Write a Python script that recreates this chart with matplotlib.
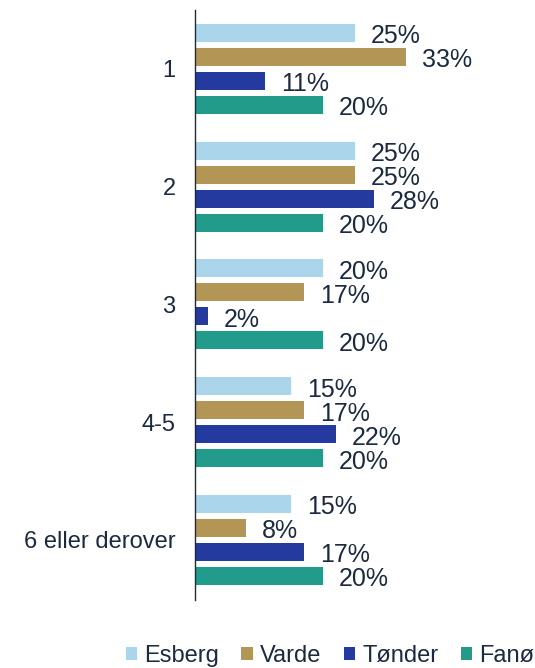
import matplotlib

matplotlib.use("Agg")
import matplotlib.pyplot as plt
import numpy as np

categories = ["1", "2", "3", "4-5", "6 eller derover"]
series = ["Esberg", "Varde", "Tønder", "Fanø"]
esberg = [25, 25, 20, 15, 15]
varde = [33, 25, 17, 17, 8]
tonder = [11, 28, 2, 22, 17]
fano = [20, 20, 20, 20, 20]
values = [esberg, varde, tonder, fano]

colors = ["#ABD5EA", "#B39556", "#253A9F", "#239B8B"]
text_color = "#1B2A3E"

plt.rcParams["font.family"] = ["Liberation Sans", "DejaVu Sans"]

fig = plt.figure(figsize=(5.35, 6.68), dpi=100)
ax = fig.add_axes([195 / 535, 1 - 600 / 668, 340 / 535, 590 / 668])

y = np.arange(len(categories))
step = 0.204
height = 0.153
for i, (name, vals, col) in enumerate(zip(series, values, colors)):
    pos = y + (i - 1.5) * step
    ax.barh(pos, vals, height=height, color=col, label=name)
    for p, v in zip(pos, vals):
        ax.annotate(f"{v}%", (v, p), xytext=(11.5, -2.5), textcoords="offset points",
                    ha="left", va="center", fontsize=18, color=text_color)

ax.set_xlim(0, 340 / 6.4)
ax.set_ylim(4.51, -0.5)
ax.set_yticks(y)
ax.set_yticklabels(categories, fontsize=17, color=text_color)
ax.tick_params(axis="y", length=0, pad=14)
ax.set_xticks([])
for s in ["top", "right", "bottom"]:
    ax.spines[s].set_visible(False)
ax.spines["left"].set_color(text_color)
ax.spines["left"].set_linewidth(1)

fig.legend(loc="center", bbox_to_anchor=(330 / 535, 1 - 656 / 668), ncol=4,
           frameon=False, fontsize=17, handlelength=0.5, handleheight=0.5,
           handletextpad=0.3, columnspacing=0.93, labelcolor=text_color,
           borderpad=0)

fig.savefig("out.png", dpi=100)
